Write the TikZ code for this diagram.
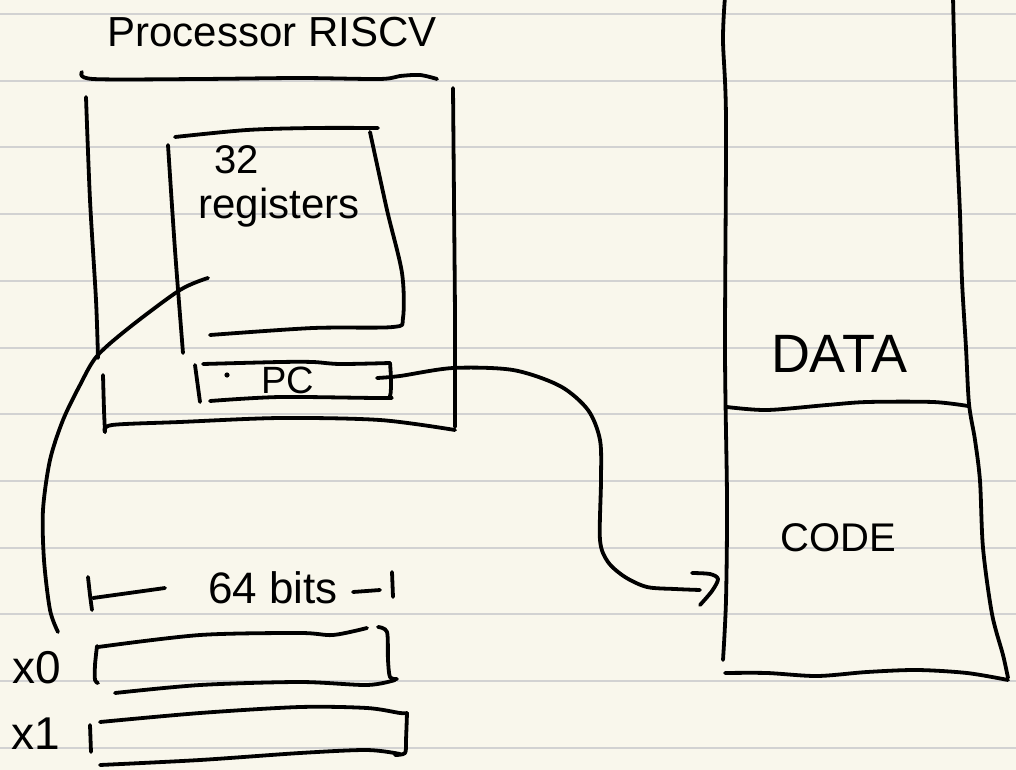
\documentclass[tikz,border=0pt]{standalone}
\usepackage{fontspec}
\newfontfamily\hand{Liberation Sans}
\definecolor{paper}{RGB}{249,247,236}
\definecolor{ruled}{RGB}{210,210,210}
\tikzset{
  ink/.style={line width=3.8pt, line cap=round, line join=round, black},
  ruleline/.style={line width=2pt, ruled},
  lbl/.style={inner sep=0pt, anchor=base, text=black},
}
\newcommand{\fs}[1]{\hand\fontsize{#1}{#1}\selectfont}
\begin{document}
\begin{tikzpicture}[x=1pt,y=-1pt]
\fill[paper] (0,0) rectangle (1016,770);
\useasboundingbox (0,0) rectangle (1016,770);
\foreach \k in {0,...,11} \draw[ruleline] (0,{14+66.7*\k}) -- (1016,{14+66.7*\k});

% ---------- labels ----------
\node[lbl, font=\fs{42}] (title) at (272,47) {Processor RISCV};
\node[lbl, font=\fs{40}] (n32) at (237,174) {32};
\node[lbl, font=\fs{42}] (regs) at (279,218) {registers};
\node[lbl, font=\fs{38}] (pc) at (288,393) {PC};
\node[lbl, font=\fs{54}] (data) at (839,372) {DATA};
\node[lbl, font=\fs{40}] (code) at (838,551) {CODE};
\node[lbl, font=\fs{44}] (bits) at (273,603) {64 bits};
\node[lbl, font=\fs{46}] (lx0) at (37,683) {x0};
\node[lbl, font=\fs{46}] (lx1) at (36,749) {x1};

% ---------- processor box ----------
\draw[ink] plot[smooth] coordinates {(82,72) (93,79) (200,79) (300,78) (380,79) (400,76) (420,75) (437,79)};
\draw[ink] plot[smooth] coordinates {(86,97) (90,200) (96,300) (98,358)};
\draw[ink] plot[smooth] coordinates {(103,375) (104,410) (105,432)};
\draw[ink] plot[smooth] coordinates {(105,432) (112,425) (180,422) (280,418) (380,420) (455,430)};
\draw[ink] plot[smooth] coordinates {(453,88) (454,200) (455,320) (455,427)};

% ---------- registers box ----------
\draw[ink] plot[smooth] coordinates {(175,137) (247,130) (313,128) (378,128)};
\draw[ink] plot[smooth] coordinates {(168,145) (175,250) (183,353)};
\draw[ink] plot[smooth] coordinates {(370,132) (387,210) (402,273) (403,318) (393,327) (313,328) (210,335)};

% ---------- PC box ----------
\draw[ink] plot[smooth] coordinates {(203,364) (280,362) (313,362) (340,364) (390,363)};
\draw[ink] (195,365) -- (200,402);
\draw[ink] plot[smooth] coordinates {(210,401) (280,397) (383,398) (390,396) (391,380) (390,363)};
\fill (227,375) circle (2.6);
\coordinate (pcOut) at (377,378);

% ---------- memory ----------
\draw[ink] plot[smooth] coordinates {(725,-3) (723,40) (726,120) (725,350) (727,500) (726,600) (723,660)};
\draw[ink] plot[smooth] coordinates {(953,-3) (956,120) (960,214) (962,281) (966,348) (969,404) (975,440) (980,481) (983,548) (992,614) (1003,655) (1008,678)};
\draw[ink] plot[smooth] coordinates {(727,407) (767,410) (827,405) (867,402) (933,402) (968,406)};
\draw[ink] plot[smooth] coordinates {(725,673) (767,673) (817,676) (867,672) (917,670) (967,673) (1008,680)};
\coordinate (memIn) at (700,590);

% ---------- PC -> memory connector ----------
\draw[ink] plot[smooth] coordinates {(pcOut) (400,376) (453,368) (513,370) (560,386) (588,410) (600,440) (601,480) (600,540) (608,562) (625,577) (647,587) (675,589) (memIn)};
\draw[ink] plot[smooth] coordinates {(692,573) (710,574) (718,579) (712,591) (700,605)};

% ---------- 64 bits marker ----------
\draw[ink] plot[smooth] coordinates {(88,577) (90,595) (92,610)};
\draw[ink] (93,598) -- (165,588);
\draw[ink] (353,592) -- (380,590);
\draw[ink] (392,572) -- (393,597);

% ---------- x0 register ----------
\draw[ink] plot[smooth] coordinates {(97,646) (95,665) (95,680) (98,683)};
\draw[ink] plot[smooth] coordinates {(98,647) (200,635) (300,633) (333,635) (367,628)};
\draw[ink] plot[smooth] coordinates {(378,627) (387,632) (388,660) (390,677) (397,679)};
\draw[ink] plot[smooth] coordinates {(115,693) (200,685) (300,682) (367,685) (395,680)};
\coordinate (x0Top) at (58,632);

% ---------- x1 register ----------
\draw[ink] (90,725) -- (91,752);
\draw[ink] plot[smooth] coordinates {(100,722) (200,713) (300,707) (367,708) (400,713) (407,713)};
\draw[ink] plot[smooth] coordinates {(407,713) (406,740) (405,753) (395,755)};
\draw[ink] plot[smooth] coordinates {(100,765) (200,760) (300,753) (367,750) (400,754)};

% ---------- registers -> x0 connector ----------
\coordinate (regTail) at (208,278);
\draw[ink] plot[smooth] coordinates {(regTail) (180,290) (130,327) (97,356) (80,385) (63,420) (50,460) (43,510) (44,560) (50,610) (x0Top)};
\end{tikzpicture}
\end{document}
